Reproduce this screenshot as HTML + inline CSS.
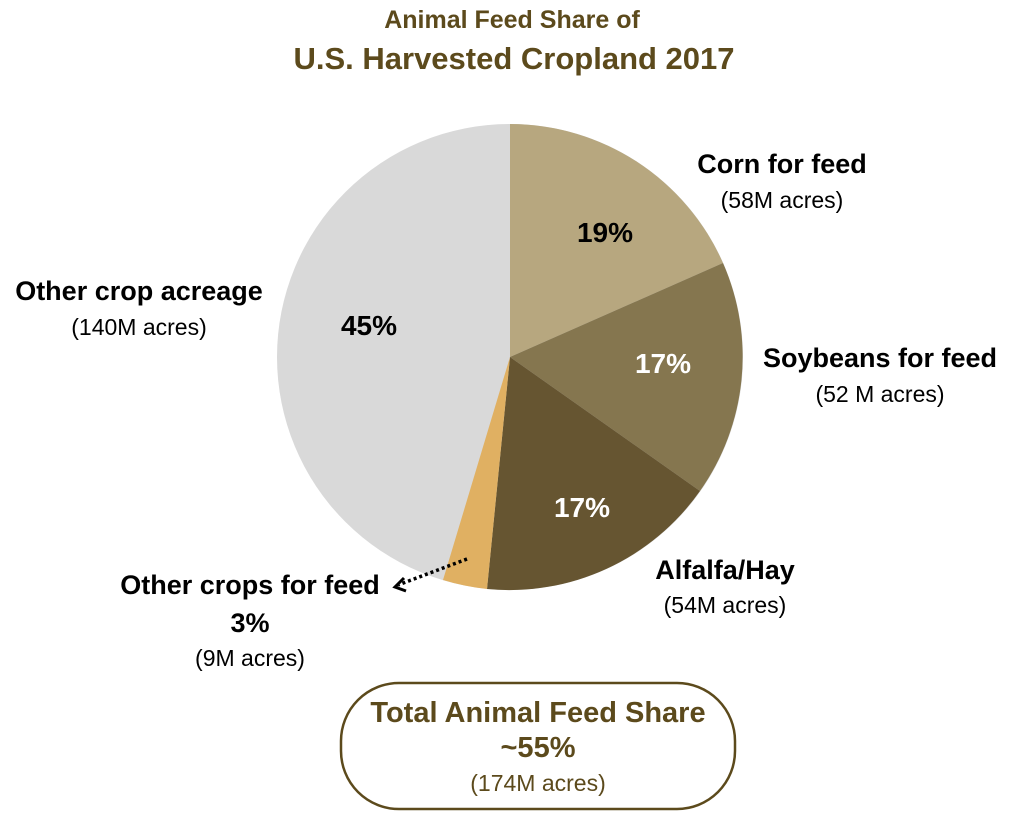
<!DOCTYPE html>
<html><head><meta charset="utf-8"><style>
body{margin:0;background:#fff;}
svg text{font-family:"Liberation Sans",sans-serif;}
</style></head><body>
<svg width="1024" height="831" viewBox="0 0 1024 831" xmlns="http://www.w3.org/2000/svg">
<text x="512" y="28" text-anchor="middle" font-size="25" font-weight="bold" fill="#5c4a1c">Animal Feed Share of</text>
<text x="514" y="69" text-anchor="middle" font-size="31" font-weight="bold" fill="#5c4a1c">U.S. Harvested Cropland 2017</text>
<circle cx="510" cy="357" r="233" fill="#d9d9d9"/>
<path d="M510,357 L510,124 A233,233 0 0 1 723,263 Z" fill="#b7a77f"/>
<path d="M510,357 L723,263 A233,233 0 0 1 700,491 Z" fill="#85764f"/>
<path d="M510,357 L700,491 A233,233 0 0 1 487,589 Z" fill="#665531"/>
<path d="M510,357 L487,589 A233,233 0 0 1 443,580 Z" fill="#e0b062"/>
<line x1="467" y1="559" x2="398" y2="585" stroke="#000" stroke-width="3.5" stroke-dasharray="3,3"/>
<path d="M404,578 L395,587 L406,591" fill="none" stroke="#000" stroke-width="3"/>
<g font-weight="bold" font-size="28" text-anchor="middle">
<text x="605" y="242" fill="#000">19%</text>
<text x="663" y="373" fill="#fff">17%</text>
<text x="582" y="517" fill="#fff">17%</text>
<text x="369" y="335" fill="#000">45%</text>
</g>
<g text-anchor="middle" fill="#000">
<text x="782" y="173" font-size="27" font-weight="bold">Corn for feed</text>
<text x="782" y="208" font-size="23">(58M acres)</text>
<text x="880" y="367" font-size="27" font-weight="bold">Soybeans for feed</text>
<text x="880" y="402" font-size="23">(52 M acres)</text>
<text x="725" y="579" font-size="27" font-weight="bold">Alfalfa/Hay</text>
<text x="725" y="613" font-size="23">(54M acres)</text>
<text x="139" y="300" font-size="27" font-weight="bold">Other crop acreage</text>
<text x="139" y="335" font-size="23">(140M acres)</text>
<text x="250" y="594" font-size="27" font-weight="bold">Other crops for feed</text>
<text x="250" y="632" font-size="27" font-weight="bold">3%</text>
<text x="250" y="666" font-size="23">(9M acres)</text>
</g>
<rect x="341" y="683" width="394" height="126" rx="58" fill="none" stroke="#5c4a1c" stroke-width="2.5"/>
<text x="538" y="722" text-anchor="middle" font-size="29" font-weight="bold" fill="#5c4a1c">Total Animal Feed Share</text>
<text x="538" y="757" text-anchor="middle" font-size="29" font-weight="bold" fill="#5c4a1c">~55%</text>
<text x="538" y="791" text-anchor="middle" font-size="23" fill="#5c4a1c">(174M acres)</text>
</svg>
</body></html>
